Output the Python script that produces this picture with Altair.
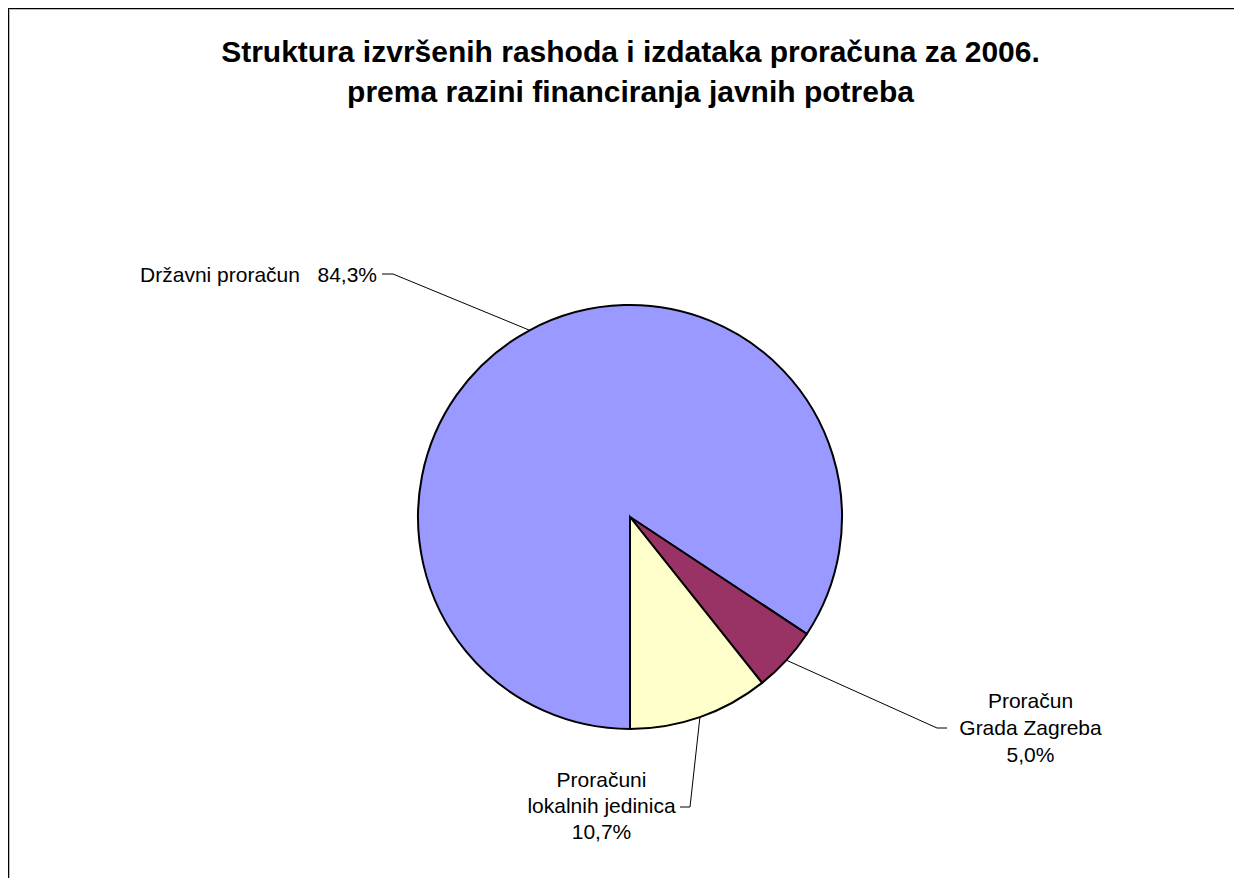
import altair as alt
import numpy as np
import pandas as pd

# ---------------- data ----------------
categories = ["Državni proračun", "Proračun Grada Zagreba", "Proračuni lokalnih jedinica"]
shares = [84.3, 5.0, 10.7]
share_labels = ["84,3%", "5,0%", "10,7%"]
colors = ["#9999FF", "#993366", "#FFFFCC"]
title_lines = [
    "Struktura izvršenih rashoda i izdataka proračuna za 2006.",
    "prema razini financiranja javnih potreba",
]
label_lines = [
    ["Državni proračun\u00a0\u00a0\u00a0" + share_labels[0]],
    ["Proračun", "Grada Zagreba", share_labels[1]],
    ["Proračuni", "lokalnih jedinica", share_labels[2]],
]

# ---------------- layout (pixels in plot coordinates) ----------------
W, H = 1226, 870
CX, CY, R = 622, 509, 212
START = np.pi  # first slice begins at 6 o'clock, clockwise
label_layout = [
    dict(elbow=(385, 266), end=(374, 266), tx=369, ty=274, align="right", step=0),
    dict(elbow=(929, 720), end=(939, 720), tx=1022.5, ty=700, align="center", step=27),
    dict(elbow=(682, 799), end=(672, 799), tx=593.5, ty=779, align="center", step=26),
]
FONT = "Liberation Sans"

# ---------------- tables ----------------
pie_df = pd.DataFrame({
    "category": categories,
    "share": shares,
    "order": list(range(len(categories))),
})

total = sum(shares)
cum = np.cumsum(shares)
lead_rows = []
for i, (cat, v) in enumerate(zip(categories, shares)):
    mid = START + 2 * np.pi * (cum[i] - v / 2) / total
    sx, sy = CX + R * np.sin(mid), CY - R * np.cos(mid)
    lay = label_layout[i]
    pts = [(sx, sy), lay["elbow"], lay["end"]]
    for k, (px, py) in enumerate(pts):
        lead_rows.append({"category": cat, "seq": k, "px": px, "py": py})
lead_df = pd.DataFrame(lead_rows)

text_rows = []
for i, lines in enumerate(label_lines):
    lay = label_layout[i]
    for j, t in enumerate(lines):
        text_rows.append({"text": t, "px": lay["tx"], "py": lay["ty"] + j * lay["step"],
                          "align": lay["align"]})
text_df = pd.DataFrame(text_rows)

title_df = pd.DataFrame({"text": title_lines, "px": [622.5, 622.5], "py": [54, 94]})

# ---------------- marks ----------------
pie = alt.Chart(pie_df).mark_arc(
    outerRadius=R, stroke="black", strokeWidth=2, strokeJoin="miter"
).encode(
    theta=alt.Theta("share:Q", stack=True, scale=alt.Scale(range=[START, START + 2 * np.pi])),
    order=alt.Order("order:Q", sort="ascending"),
    color=alt.Color("category:N", scale=alt.Scale(domain=categories, range=colors), legend=None),
    x=alt.value(CX),
    y=alt.value(CY),
)

leaders = alt.Chart(lead_df).mark_line(color="black", strokeWidth=1).encode(
    x=alt.X("px:Q", scale=None, axis=None),
    y=alt.Y("py:Q", scale=None, axis=None),
    detail="category:N",
    order="seq:Q",
)

labels_right = alt.Chart(text_df[text_df["align"] == "right"]).mark_text(
    font=FONT, fontSize=21, color="black", align="right", baseline="alphabetic"
).encode(
    x=alt.X("px:Q", scale=None, axis=None),
    y=alt.Y("py:Q", scale=None, axis=None),
    text="text:N",
)
labels_center = alt.Chart(text_df[text_df["align"] == "center"]).mark_text(
    font=FONT, fontSize=21, color="black", align="center", baseline="alphabetic"
).encode(
    x=alt.X("px:Q", scale=None, axis=None),
    y=alt.Y("py:Q", scale=None, axis=None),
    text="text:N",
)

title = alt.Chart(title_df).mark_text(
    font=FONT, fontSize=30, fontWeight="bold", color="black", align="center", baseline="alphabetic"
).encode(
    x=alt.X("px:Q", scale=None, axis=None),
    y=alt.Y("py:Q", scale=None, axis=None),
    text="text:N",
)

# chart-area frame (top and left edges visible in the window)
frame_df = pd.DataFrame({"edge": ["top", "left"]})
top_black = alt.Chart(frame_df.iloc[:1]).mark_rule(color="black", strokeWidth=1).encode(
    x=alt.value(0), x2=alt.value(W), y=alt.value(0.5))
top_gray = alt.Chart(frame_df.iloc[:1]).mark_rule(color="#BBBBBB", strokeWidth=1).encode(
    x=alt.value(1), x2=alt.value(W), y=alt.value(1.5))
left_black = alt.Chart(frame_df.iloc[1:]).mark_rule(color="black", strokeWidth=1).encode(
    x=alt.value(0.5), y=alt.value(0), y2=alt.value(H))
left_gray = alt.Chart(frame_df.iloc[1:]).mark_rule(color="#BBBBBB", strokeWidth=1).encode(
    x=alt.value(1.5), y=alt.value(1), y2=alt.value(H))

chart = alt.layer(
    top_black, top_gray, left_black, left_gray, pie, leaders, labels_right, labels_center, title
).resolve_scale(
    x="independent", y="independent"
).properties(
    width=W, height=H, padding=0, autosize=alt.AutoSizeParams(type="none"),
    background="white",
).configure_view(stroke=None)

chart.save("out.html", embed_options={"renderer": "svg", "actions": False})
